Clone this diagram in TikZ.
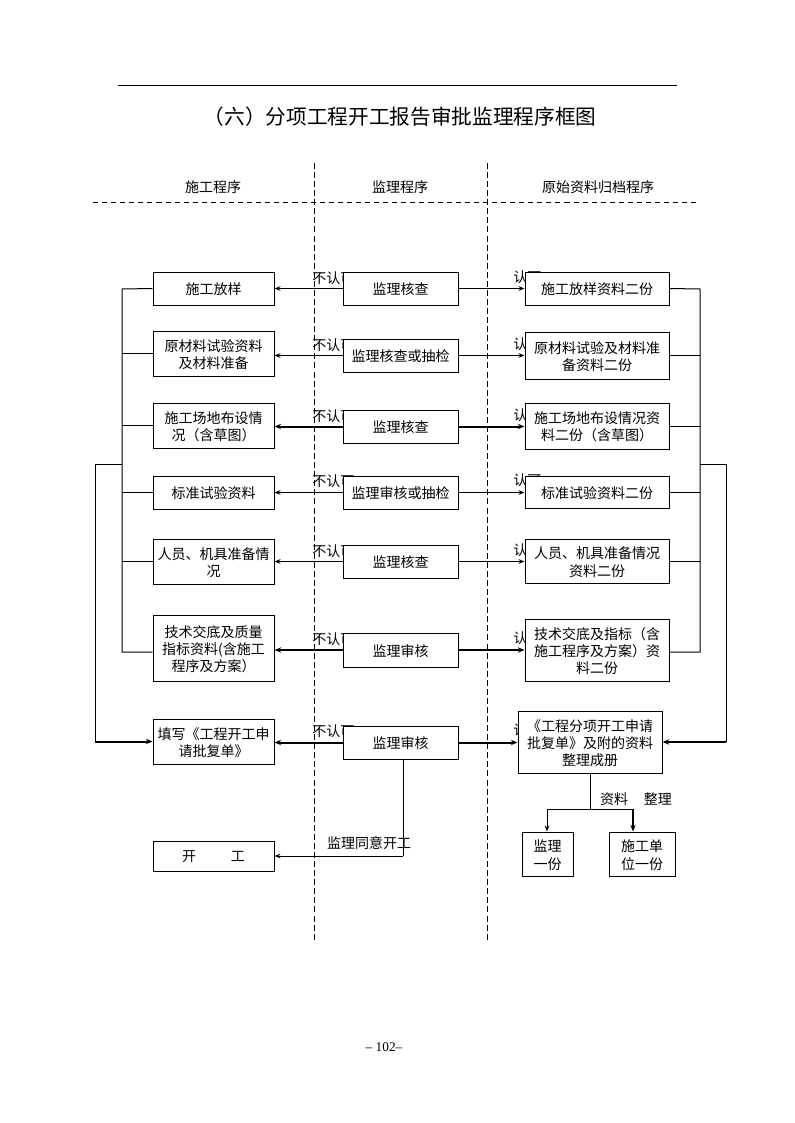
\documentclass[tikz,border=0pt]{standalone}
\usepackage{fontspec}
\setmainfont{Noto Sans CJK SC}
\newfontfamily\pagenumfont{Liberation Serif}
\usetikzlibrary{arrows.meta,fit}
\newcommand\mkbox[4]{%
  \node[box, fit={#2 #3}] (#1) {};
  \node[bt] (#1t) at (#1.center) {#4};}
\begin{document}
\begin{tikzpicture}[x=0.75pt,y=-0.75pt,
  box/.style={draw, line width=0.75pt, fill=white, inner sep=0pt},
  bt/.style={inner sep=0pt, align=center, yshift=-0.8pt, font=\fontsize{10.5}{13}\selectfont},
  txt/.style={inner sep=0pt, font=\fontsize{10.5}{13}\selectfont},
  lbl/.style={inner sep=0pt, anchor=west, font=\fontsize{10.5}{13}\selectfont},
  guide/.style={line width=0.75pt, dash pattern=on 4.5pt off 2.3pt},
  hguide/.style={line width=0.75pt, dash pattern=on 3.8pt off 3pt},
  conn/.style={line width=0.75pt},
  thin/.style={line width=0.75pt, -{Stealth[length=4.5pt,width=3.5pt]}},
  thick/.style={line width=1.5pt, -{Stealth[length=5pt,width=4pt]}}
]
\useasboundingbox (0,0) rectangle (794,1123);
% top rule and title
\draw[line width=0.75pt] (118,86) -- (677,86);
\node[inner sep=0pt, font=\fontsize{15.5}{18}\selectfont] (title) at (400,117) {（六）分项工程开工报告审批监理程序框图};
% headers
\node[txt] (h1) at (213,187) {施工程序};
\node[txt] (h2) at (400,187) {监理程序};
\node[txt] (h3) at (598,187) {原始资料归档程序};
% guide lines
\draw[guide] (314,163) -- (314,940);
\draw[guide] (487,163) -- (487,940);
\draw[hguide] (93,203) -- (700,203);
% labels (partly covered by boxes)
\foreach \yy in {278,345,416,481,551,639,731} {
  \node[lbl] at (312,\yy) {不认可};
}
\foreach \yy in {277,344,415,480,550,638,730} {
  \node[lbl] at (513,\yy) {认可};
}
% left column
\mkbox{L1}{(153,272)}{(274,305)}{施工放样}
\mkbox{L2}{(153,331)}{(274,376)}{原材料试验资料\\及材料准备}
\mkbox{L3}{(153,403)}{(274,448)}{施工场地布设情\\况（含草图）}
\mkbox{L4}{(153,476)}{(274,509)}{标准试验资料}
\mkbox{L5}{(153,539)}{(274,584)}{人员、机具准备情\\况}
\mkbox{L6}{(153,615)}{(274,681)}{技术交底及质量\\指标资料(含施工\\程序及方案）}
\mkbox{L7}{(153,719)}{(274,764)}{填写《工程开工申\\请批复单》}
\mkbox{L8}{(153,841)}{(274,871)}{开\hspace{26pt}工}
% middle column
\mkbox{M1}{(343,272)}{(458,305)}{监理核查}
\mkbox{M2}{(343,339)}{(458,372)}{监理核查或抽检}
\mkbox{M3}{(343,410)}{(458,443)}{监理核查}
\mkbox{M4}{(343,476)}{(458,509)}{监理审核或抽检}
\mkbox{M5}{(343,545)}{(458,578)}{监理核查}
\mkbox{M6}{(343,633)}{(458,667)}{监理审核}
\mkbox{M7}{(343,726)}{(458,759)}{监理审核}
% right column
\mkbox{R1}{(525,272)}{(669,305)}{施工放样资料二份}
\mkbox{R2}{(525,332)}{(669,379)}{原材料试验及材料准\\备资料二份}
\mkbox{R3}{(525,403)}{(669,449)}{施工场地布设情况资\\料二份（含草图）}
\mkbox{R4}{(525,476)}{(669,508)}{标准试验资料二份}
\mkbox{R5}{(525,539)}{(669,583)}{人员、机具准备情况\\资料二份}
\mkbox{R6}{(525,619)}{(669,681)}{技术交底及指标（含\\施工程序及方案）资\\料二份}
\mkbox{R7}{(518,711)}{(662,773)}{《工程分项开工申请\\批复单》及附的资料\\整理成册}
\mkbox{B1}{(522,832)}{(573,876)}{监理\\一份}
\mkbox{B2}{(609,832)}{(675,876)}{施工单\\位一份}
% row arrows
\foreach \i/\s in {1/thin,2/thin,3/thick,4/thin,5/thin,6/thick,7/thick} {
  \draw[\s] (M\i.west) -- (M\i.west -| L\i.east);
  \draw[\s] (M\i.east) -- (M\i.east -| R\i.west);
}
% left bracket
\coordinate (lbt) at (122,289);
\coordinate (lbb) at (122,652);
\coordinate (lo) at (95,464);
\draw[conn] (L1.west) -- (lbt) -- (lbb) -- (lbb -| L6.west);
\foreach \i in {2,3,4,5} { \draw[conn] (L\i.west) -- (L\i.west -| lbt); }
\draw[conn] (lo -| lbt) -- (lo) -- (lo |- L7.west);
\draw[thick] (lo |- L7.west) -- (L7.west);
% right bracket
\coordinate (rbt) at (700,289);
\coordinate (rbb) at (700,652);
\coordinate (ro) at (726,464);
\draw[conn] (R1.east) -- (rbt) -- (rbb) -- (rbb -| R6.east);
\foreach \i in {2,3,4,5} { \draw[conn] (R\i.east) -- (R\i.east -| rbt); }
\draw[conn] (ro -| rbt) -- (ro) -- (ro |- R7.east);
\draw[thick] (ro |- R7.east) -- (R7.east);
% bottom: start of work
\coordinate (mk) at (403,856);
\draw[conn] (M7.south -| mk) -- (mk);
\draw[thin] (mk) -- (mk -| L8.east);
\node[txt] (agree) at (369,843) {监理同意开工};
% bottom right: split copies
\coordinate (rj) at (590,809);
\coordinate (sa) at (547,809);
\coordinate (sb) at (633,809);
\draw[conn] (R7.south -| rj) -- (rj);
\draw[conn] (sa) -- (sb);
\draw[thin] (sa) -- (sa |- B1.north);
\draw[thick] (sb) -- (sb |- B2.north);
\node[txt] (zl) at (636,799) {资料\hspace{12pt}整理};
% page number
\node[inner sep=0pt, font=\pagenumfont\fontsize{10}{12}\selectfont] (pg) at (384,1047) {– 102–};
\end{tikzpicture}
\end{document}
